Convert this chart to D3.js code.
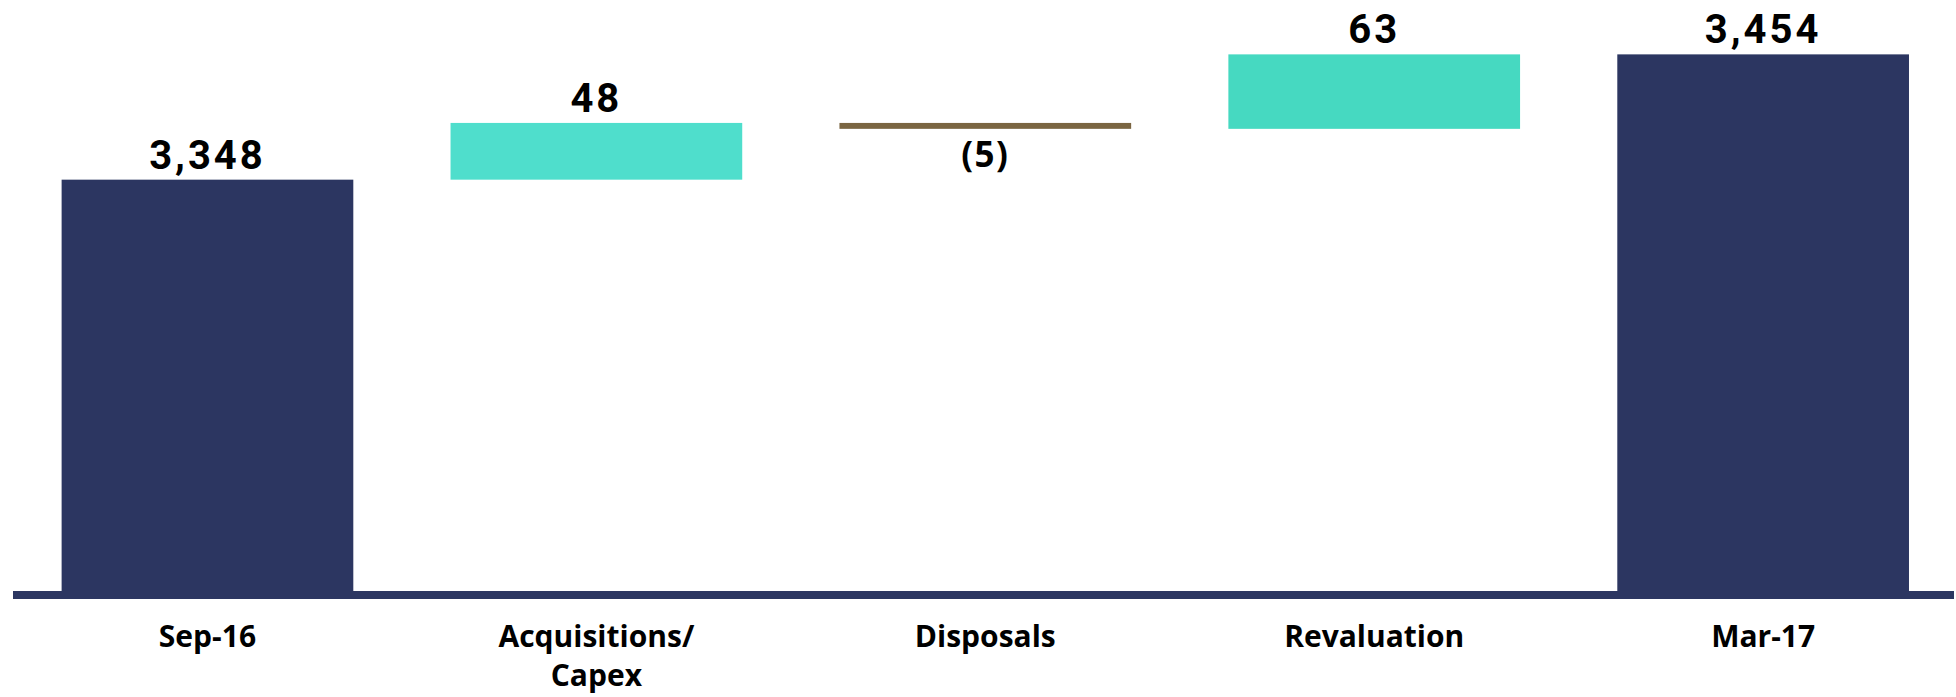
<!DOCTYPE html>
<html>
<head>
<meta charset="utf-8">
<script src="https://cdn.jsdelivr.net/npm/d3@7"></script>
<style>
  html, body { margin: 0; padding: 0; background: #ffffff; }
  svg { display: block; }
</style>
</head>
<body>
<svg id="chart" width="1956" height="697"></svg>
<script>
// Net asset value bridge, Sep-16 to Mar-17
const categories = ["Sep-16", "Acquisitions/\nCapex", "Disposals", "Revaluation", "Mar-17"];
const values = [3348, 48, -5, 63, 3454];
const kinds = ["total", "delta", "delta", "delta", "total"];
const barColors = ["#2C3661", "#4FDECC", "#7A6541", "#46D9C1", "#2C3661"];

const width = 1956, height = 697;
const baselineY = 591;

const svg = d3.select("#chart");

// Build waterfall segments: totals start at the axis floor, deltas float
let running = 0;
const segments = categories.map((c, i) => {
  const v = values[i];
  let lo, hi;
  if (kinds[i] === "total") {
    lo = null; hi = v; running = v;
  } else {
    const start = running;
    running = start + v;
    lo = Math.min(start, running);
    hi = Math.max(start, running);
  }
  return { cat: c, value: v, kind: kinds[i], lo, hi, color: barColors[i] };
});

const x = d3.scaleBand()
  .domain(categories)
  .range([13, 1957.6])
  .paddingInner(0.25)
  .paddingOuter(0.125);

const y = d3.scaleLinear()
  .domain([3000, 3500])
  .range([baselineY, 0]);

const fmt = d3.format(",");
const labelText = d => d.value < 0 ? `(${fmt(-d.value)})` : fmt(d.value);

// Bars
svg.append("g")
  .selectAll("rect")
  .data(segments)
  .join("rect")
  .attr("x", d => x(d.cat))
  .attr("width", x.bandwidth())
  .attr("y", d => y(d.hi))
  .attr("height", d => (d.lo === null ? y.range()[0] : y(d.lo)) - y(d.hi))
  .attr("fill", d => d.color);

// Axis baseline
const axis = svg.append("g")
  .attr("transform", `translate(0,${baselineY + 4})`)
  .call(d3.axisBottom(x).tickSize(0).tickFormat(""));
axis.select(".domain")
  .attr("d", `M13,0H1954`)
  .attr("stroke", "#2C3661")
  .attr("stroke-width", 8);

// Category labels (multi-line)
const catLabels = svg.append("g")
  .selectAll("text")
  .data(categories)
  .join("text")
  .attr("text-anchor", "middle")
  .attr("font-family", "'Open Sans', sans-serif")
  .attr("font-weight", 700)
  .attr("font-size", 30)
  .attr("fill", "#000");
catLabels.each(function (c) {
  const lines = c.split("\n");
  const t = d3.select(this);
  lines.forEach((ln, k) => {
    t.append("tspan")
      .attr("x", x(c) + x.bandwidth() / 2)
      .attr("y", 647 + k * 39)
      .text(ln);
  });
});

// Value labels
svg.append("g")
  .selectAll("text")
  .data(segments)
  .join("text")
  .attr("text-anchor", "middle")
  .attr("x", d => x(d.cat) + x.bandwidth() / 2)
  .attr("y", d => d.value < 0 ? y(d.lo) + 38 : y(d.hi) - 11)
  .attr("font-family", d => d.value < 0 ? "'Open Sans', sans-serif" : "Roboto, sans-serif")
  .attr("font-weight", 700)
  .attr("font-size", d => d.value < 0 ? 35 : 40)
  .attr("letter-spacing", d => d.value < 0 ? 1.5 : 3)
  .attr("fill", "#000")
  .text(labelText);
</script>
</body>
</html>
